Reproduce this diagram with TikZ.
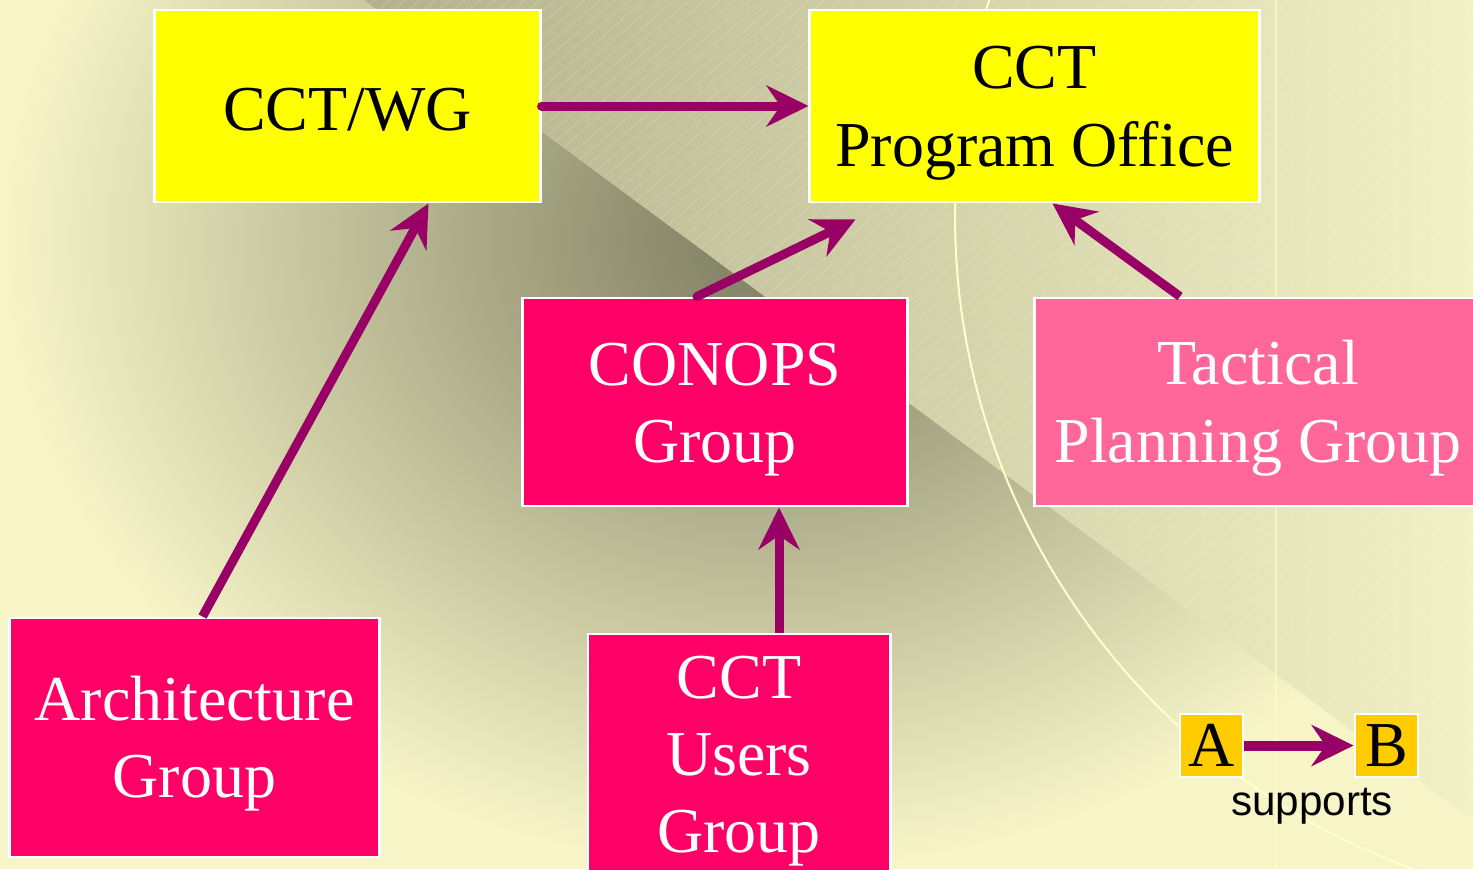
\documentclass[tikz,border=0pt]{standalone}
\usepackage{fontspec}
\setmainfont{Liberation Serif}
\newfontfamily\labelsans{Liberation Sans}
\usetikzlibrary{arrows.meta,calc}
\definecolor{cream}{HTML}{F7F5C8}
\definecolor{khakidark}{HTML}{7C7C60}
\definecolor{khakilight}{HTML}{B3B18C}
\definecolor{creamlight}{HTML}{F2F0C4}
\definecolor{boxyellow}{HTML}{FFFF00}
\definecolor{boxpink}{HTML}{FF0066}
\definecolor{boxrose}{HTML}{FF6699}
\definecolor{boxgold}{HTML}{FFCC00}
\definecolor{linkpurple}{HTML}{990066}
\definecolor{arcyellow}{HTML}{FFFFCC}
\def\boxfont{\fontsize{18.2}{22}\selectfont}
\def\tiplength{0.42cm}
\def\firstline{\rule{0pt}{16.2pt}}

\begin{document}
\begin{tikzpicture}[
	x=0.01cm,y=-0.01cm,
	wgbox/.style={rectangle,draw=white,line width=0.8pt,fill=boxyellow,inner sep=0pt,align=center,font=\boxfont},
	groupbox/.style={rectangle,draw=white,line width=0.8pt,fill=boxpink,text=white,inner sep=0pt,align=center,font=\boxfont},
	keybox/.style={rectangle,draw=white,line width=0.8pt,fill=boxgold,inner sep=0pt,minimum size=0.63cm,font=\boxfont},
	link/.style={draw=linkpurple,line width=0.09cm,-{Stealth[length=\tiplength,width=0.41cm,inset=0.14cm]}}
	]
	\useasboundingbox (0,0) rectangle (1473,869);
	\clip (0,0) rectangle (1473,869);
	
	% backdrop
	\fill[cream] (0,0) rectangle (1473,869);
	\begin{scope}
		\clip (0,0) -- (364,0) -- (1473,820) -- (1473,869) -- (0,869) -- cycle;
		\shade[inner color=khakidark,outer color=cream] (770,240) ellipse (770 and 630);
	\end{scope}
	\begin{scope}
		\clip (364,0) -- (1473,0) -- (1473,820) -- cycle;
		\shade[left color=khakilight,right color=creamlight] (364,0) rectangle (1473,820);
		\foreach \s in {0,15,...,2490}
			\draw[white,opacity=0.15,line width=0.3pt] (\s,0) -- ++(-1000,860);
	\end{scope}
	\draw[arcyellow,line width=0.02cm] (1649,216) circle (694);
	\draw[arcyellow,opacity=0.6,line width=0.02cm] (1276,0) -- (1276,869);
	
	\node[wgbox,minimum width=3.85cm,minimum height=1.92cm] (wg) at (347.5,106) {\rule{0pt}{14pt}CCT/WG};
	\node[wgbox,minimum width=4.49cm,minimum height=1.92cm] (office) at (1034.5,106) {\firstline CCT\\Program Office};
	\node[groupbox,minimum width=3.84cm,minimum height=2.08cm] (conops) at (715,402) {\firstline CONOPS\\Group};
	\node[groupbox,fill=boxrose,minimum width=4.46cm,minimum height=2.08cm] (tactical) at (1258,402) {\firstline Tactical\\Planning Group};
	\node[groupbox,minimum width=3.69cm,minimum height=2.39cm] (arch) at (194.5,737.5) {\firstline Architecture\\Group};
	\node[groupbox,minimum width=3.02cm,minimum height=2.54cm] (users) at (739,761) {CCT\\Users\\Group};
	
	\node[keybox] (a) at (1211.5,745.5) {A};
	\node[keybox] (b) at (1386.5,745.5) {B};
	\node[font=\labelsans\fontsize{12}{14}\selectfont] (supportslabel) at (1312,806) {supports};
	
	\coordinate (officegap) at ($(office.south west)+(47,16)$);
	
	\draw[link,line cap=round] (wg.east) -- (office.west);
	\draw[link] ($(arch.north)+(8,0)$) -- ($(wg.south)+(81,0)$);
	\draw[link,line cap=round] ($(conops.north)+(-18,0)$) -- (officegap);
	\draw[link] ($(tactical.north)+(-78,0)$) -- ($(office.south)+(18,0)$);
	\draw[link] ($(users.north)+(40,0)$) -- ($(conops.south)+(64,0)$);
	\draw[link,line width=0.1cm] (a.east) -- (b.west);
\end{tikzpicture}
\end{document}
